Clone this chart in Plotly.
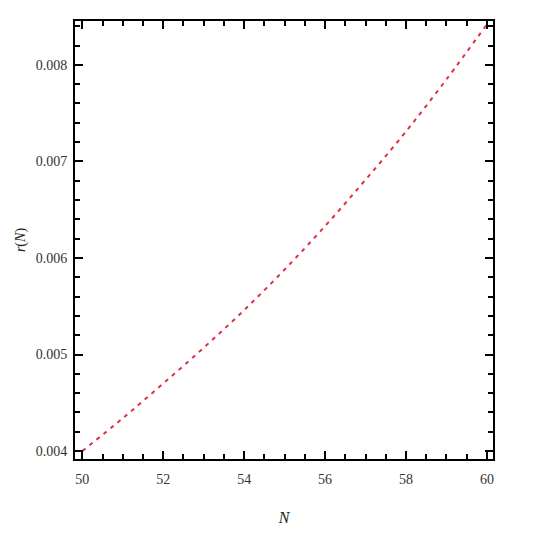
import plotly.graph_objects as go

# valores
N = [50, 51, 52, 53, 54, 55, 56, 57, 58, 59, 60]
r_N = [0.00400, 0.00434, 0.00470, 0.00507, 0.00546, 0.00588, 0.00633, 0.00681, 0.00731, 0.00785, 0.00842]

x_ticks = [50, 52, 54, 56, 58, 60]
y_ticks = [0.004, 0.005, 0.006, 0.007, 0.008]

fig = go.Figure()
fig.add_trace(go.Scatter(
    x=N, y=r_N, mode="lines",
    line=dict(color="#e0303d", width=2, dash="4px,5px", shape="spline"),
    showlegend=False))

fuente = dict(family="Liberation Serif, Times New Roman, serif", size=14, color="#333333")

eje = dict(
    showgrid=False, zeroline=False, showline=True, linecolor="black", linewidth=2,
    mirror="allticks", ticks="inside", ticklen=8, tickwidth=1.5, tickcolor="black",
    tickfont=fuente,
)

# el body de la pagina deja ~8px de margen, por eso 537
fig.update_layout(
    width=537, height=537,
    margin=dict(l=62, r=52, t=11, b=86),
    paper_bgcolor="white", plot_bgcolor="white",
    xaxis=dict(eje, range=[49.82, 60.15], tickvals=x_ticks, ticklabelstandoff=6,
               minor=dict(ticks="inside", ticklen=5, dtick=0.5, tickcolor="black", tickwidth=1.5),
               title=dict(text="<i>N</i>", font=dict(family="Liberation Serif, serif", size=16, color="#222222"),
                          standoff=26)),
    yaxis=dict(eje, range=[0.003918, 0.008454], tickvals=y_ticks, tickformat=".3f", ticklabelstandoff=3,
               minor=dict(ticks="inside", ticklen=5, dtick=0.0002, tickcolor="black", tickwidth=1.5),
               title=dict(text="<i>r</i>(<i>N</i>)", font=dict(family="Liberation Serif, serif", size=14, color="#222222"),
                          standoff=7)),
)

fig.write_html("out.html")
